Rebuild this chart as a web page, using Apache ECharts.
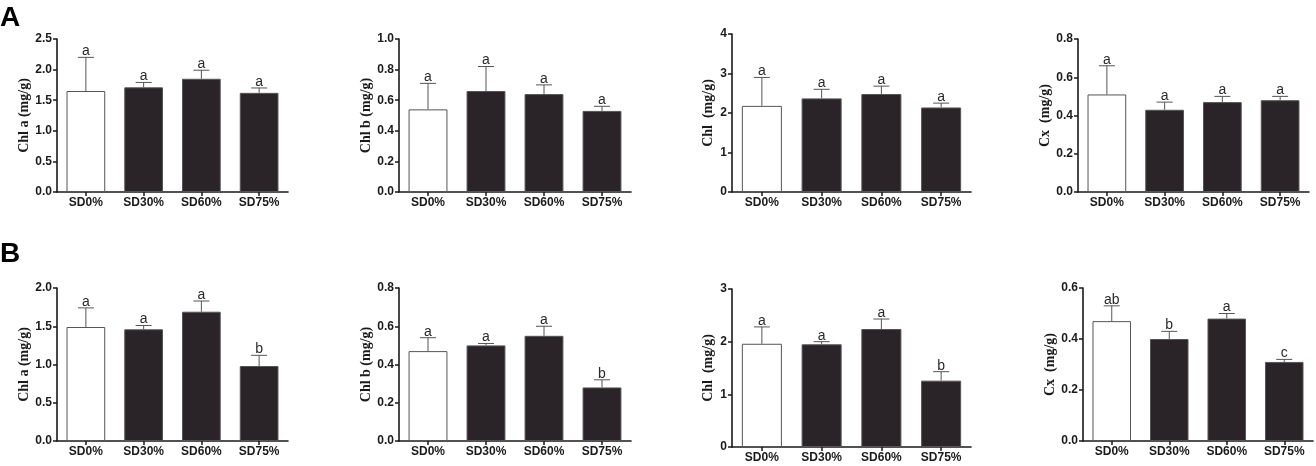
<!DOCTYPE html>
<html>
<head>
<meta charset="utf-8">
<script src="https://cdn.jsdelivr.net/npm/echarts@6/dist/echarts.min.js"></script>
<style>
  html, body { margin: 0; padding: 0; background: #fff; }
  #chart { width: 1316px; height: 466px; }
</style>
</head>
<body>
<div id="chart"></div>
<script>
const categories = ["SD0%", "SD30%", "SD60%", "SD75%"];

// row A
const chlaA = [1.65, 1.71, 1.85, 1.62];
const chlaA_sd = [0.55, 0.08, 0.14, 0.08];
const chlaA_sig = ["a", "a", "a", "a"];
const chlbA = [0.54, 0.66, 0.64, 0.53];
const chlbA_sd = [0.17, 0.16, 0.06, 0.03];
const chlbA_sig = ["a", "a", "a", "a"];
const chlA = [2.18, 2.37, 2.48, 2.14];
const chlA_sd = [0.72, 0.23, 0.20, 0.11];
const chlA_sig = ["a", "a", "a", "a"];
const cxA = [0.51, 0.43, 0.47, 0.48];
const cxA_sd = [0.15, 0.04, 0.03, 0.02];
const cxA_sig = ["a", "a", "a", "a"];

// row B
const chlaB = [1.49, 1.46, 1.69, 0.98];
const chlaB_sd = [0.25, 0.05, 0.14, 0.14];
const chlaB_sig = ["a", "a", "a", "b"];
const chlbB = [0.47, 0.50, 0.55, 0.28];
const chlbB_sd = [0.07, 0.01, 0.05, 0.04];
const chlbB_sig = ["a", "a", "a", "b"];
const chlB = [1.96, 1.95, 2.24, 1.26];
const chlB_sd = [0.32, 0.05, 0.19, 0.17];
const chlB_sig = ["a", "a", "a", "b"];
const cxB = [0.47, 0.40, 0.48, 0.31];
const cxB_sd = [0.06, 0.03, 0.02, 0.01];
const cxB_sig = ["ab", "b", "a", "c"];

// axis names and tick settings
const yNames = ["Chl a (mg/g)", "Chl b (mg/g)", "Chl  (mg/g)", "Cx  (mg/g)",
                "Chl a (mg/g)", "Chl b (mg/g)", "Chl  (mg/g)", "Cx  (mg/g)"];
const yMax = [2.5, 1.0, 4, 0.8, 2.0, 0.8, 3, 0.6];
const yStep = [0.5, 0.2, 1, 0.2, 0.5, 0.2, 1, 0.2];
const yDecimals = [1, 1, 0, 1, 1, 1, 0, 1];

const panels = [
  [chlaA, chlaA_sd, chlaA_sig], [chlbA, chlbA_sd, chlbA_sig],
  [chlA, chlA_sd, chlA_sig], [cxA, cxA_sd, cxA_sig],
  [chlaB, chlaB_sd, chlaB_sig], [chlbB, chlbB_sd, chlbB_sig],
  [chlB, chlB_sd, chlB_sig], [cxB, cxB_sd, cxB_sig]
];

// plot boxes [left, top, width, height] and y-name gap
const boxes = [
  [57, 39, 231, 153], [399, 39, 232, 153], [732, 34, 239, 158], [1078, 39, 231, 153],
  [57, 288, 231, 153], [399, 288, 232, 153], [732, 289, 239, 158], [1083, 288, 230, 153]
];
const nameGaps = [24, 24, 17, 24, 24, 24, 17, 25];

const SANS = "Liberation Sans, Arial, sans-serif";
const SERIF = "Liberation Serif, Times New Roman, serif";
const DARK = "#2a2428";
const INK = "#1a1a1a";

const grid = [], xAxis = [], yAxis = [], series = [];

panels.forEach(function (p, i) {
  const b = boxes[i];
  grid.push({ left: b[0], top: b[1], width: b[2], height: b[3], containLabel: false });
  xAxis.push({
    type: "category", gridIndex: i, data: categories,
    axisLine: { lineStyle: { color: INK, width: 1.6 } },
    axisTick: { show: true, alignWithLabel: true, length: 4, lineStyle: { color: INK, width: 1.5 } },
    axisLabel: { color: INK, fontFamily: SANS, fontWeight: "bold", fontSize: 12, margin: 5 }
  });
  yAxis.push({
    type: "value", gridIndex: i, min: 0, max: yMax[i], interval: yStep[i],
    name: yNames[i], nameLocation: "middle", nameGap: nameGaps[i],
    nameTextStyle: { fontFamily: SERIF, fontWeight: "bold", fontSize: 14, color: INK },
    axisLine: { show: true, lineStyle: { color: INK, width: 1.6 } },
    axisTick: { show: true, length: 4, lineStyle: { color: INK, width: 1.5 } },
    splitLine: { show: false },
    axisLabel: {
      color: INK, fontFamily: SANS, fontWeight: "bold", fontSize: 12, margin: 5,
      formatter: (function (d) { return function (v) { return v.toFixed(d); }; })(yDecimals[i])
    }
  });
  series.push({
    type: "bar", xAxisIndex: i, yAxisIndex: i, barCategoryGap: "33%",
    data: p[0].map(function (v, k) {
      return {
        value: v,
        itemStyle: k === 0
          ? { color: "#ffffff", borderColor: "#555555", borderWidth: 1 }
          : { color: DARK, borderColor: "#555555", borderWidth: 1 }
      };
    }),
    silent: true, animation: false
  });
  series.push({
    type: "custom", xAxisIndex: i, yAxisIndex: i, clip: false,
    data: p[0].map(function (v, k) { return [k, v, v + p[1][k]]; }),
    renderItem: function (params, api) {
      const base = api.coord([api.value(0), api.value(1)]);
      const top = api.coord([api.value(0), api.value(2)]);
      const label = panels[i][2][params.dataIndex];
      return {
        type: "group",
        children: [
          { type: "line", shape: { x1: base[0], y1: base[1], x2: top[0], y2: top[1] },
            style: { stroke: "#555555", lineWidth: 1 } },
          { type: "line", shape: { x1: top[0] - 8, y1: top[1], x2: top[0] + 8, y2: top[1] },
            style: { stroke: "#555555", lineWidth: 1 } },
          { type: "text", x: top[0], y: top[1] + 1,
            style: { text: label, align: "center", verticalAlign: "bottom",
                     fontFamily: SANS, fontSize: 14, fill: "#2a2a2a" } }
        ]
      };
    },
    silent: true, animation: false
  });
});

const chart = echarts.init(document.getElementById("chart"));
chart.setOption({
  animation: false,
  grid: grid, xAxis: xAxis, yAxis: yAxis, series: series,
  graphic: [
    { type: "text", left: 0, top: 4,
      style: { text: "A", fontFamily: SANS, fontWeight: "bold", fontSize: 28, fill: "#000" } },
    { type: "text", left: 0, top: 240,
      style: { text: "B", fontFamily: SANS, fontWeight: "bold", fontSize: 28, fill: "#000" } }
  ]
});
</script>
</body>
</html>
